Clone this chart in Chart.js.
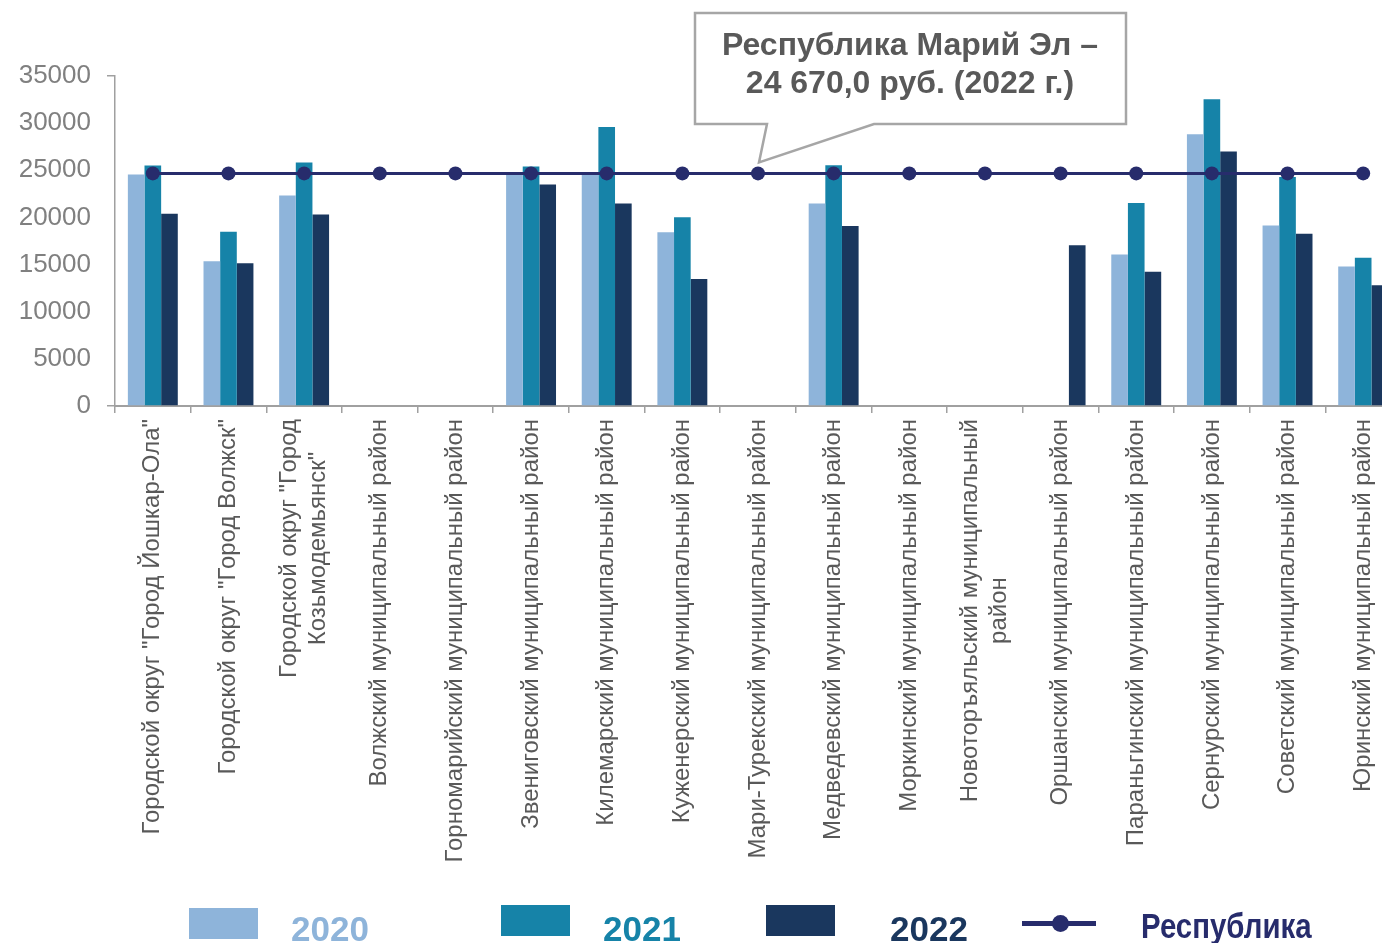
<!DOCTYPE html>
<html>
<head>
<meta charset="utf-8">
<script src="https://cdn.jsdelivr.net/npm/chart.js@4.4.1/dist/chart.umd.min.js"></script>
<style>
  html,body{margin:0;padding:0;background:#fff;width:1382px;height:943px;overflow:hidden;}
  #wrap{position:absolute;left:0;top:0;width:1408px;height:943px;}
  .box{position:absolute;width:69px;height:31px;}
  .txt{position:absolute;font-family:'Liberation Sans',Arial,sans-serif;font-weight:bold;font-size:35px;line-height:35px;white-space:nowrap;}
</style>
</head>
<body>
<div id="wrap"><canvas id="c"></canvas></div>

<div class="box" style="left:189px;top:908px;background:#8eb4da;"></div>
<div class="txt" style="left:291px;top:911px;color:#8eb4da;">2020</div>
<div class="box" style="left:501px;top:905px;background:#1683a8;"></div>
<div class="txt" style="left:603px;top:911px;color:#1683a8;">2021</div>
<div class="box" style="left:766px;top:905px;background:#1a375e;"></div>
<div class="txt" style="left:890px;top:911px;color:#1a375e;">2022</div>
<div style="position:absolute;left:1022px;top:921px;width:74px;height:5px;background:#272c6c;"></div>
<div style="position:absolute;left:1052px;top:915px;width:17px;height:17px;border-radius:50%;background:#272c6c;"></div>
<div class="txt" style="left:1141px;top:908px;color:#272c6c;transform:scaleX(0.84);transform-origin:0 0;">Республика</div>

<script>
const categories = [
  ['Городской округ "Город Йошкар-Ола"'],
  'Городской округ "Город Волжск"',
  ['Городской округ "Город', 'Козьмодемьянск"'],
  'Волжский муниципальный район',
  'Горномарийский муниципальный район',
  'Звениговский муниципальный район',
  'Килемарский муниципальный район',
  'Куженерский муниципальный район',
  'Мари-Турекский муниципальный район',
  'Медведевский муниципальный район',
  'Моркинский муниципальный район',
  ['Новоторъяльский муниципальный', 'район'],
  'Оршанский муниципальный район',
  'Параньгинский муниципальный район',
  'Сернурский муниципальный район',
  'Советский муниципальный район',
  'Юринский муниципальный район'
];
const values2020 = [24550, 15360, 22330, null, null, 24700, 24600, 18440, null, 21480, null, null, null, 16080, 28820, 19150, 14800];
const values2021 = [25500, 18470, 25820, null, null, 25400, 29600, 20030, null, 25540, null, null, null, 21540, 32530, 24300, 15720];
const values2022 = [20380, 15150, 20310, null, null, 23500, 21480, 13460, null, 19100, null, null, 17060, 14230, 26990, 18260, 12820];
const republic   = [24670, 24670, 24670, 24670, 24670, 24670, 24670, 24670, 24670, 24670, 24670, 24670, 24670, 24670, 24670, 24670, 24670];
const yTicks = [0, 5000, 10000, 15000, 20000, 25000, 30000, 35000];
const calloutLines = ['Республика Марий Эл –', '24 670,0 руб. (2022 г.)'];
const calloutIndex = 8;

const FONT = "'Liberation Sans', Arial, sans-serif";

const centerLabels = {
  id: 'centerLabels',
  beforeDraw(chart) {
    const sc = chart.scales.x;
    const items = sc.getLabelItems();
    const ctx = chart.ctx;
    items.forEach(it => {
      if (it._adj) return;
      const lines = Array.isArray(it.label) ? it.label : [it.label];
      ctx.save();
      ctx.font = it.font.string;
      const w = Math.max(...lines.map(l => ctx.measureText(l).width));
      ctx.restore();
      it.options.textAlign = 'center';
      const t = it.options.translation;
      it.options.translation = [t[0] - (lines.length - 1) * it.font.lineHeight / 2, t[1] + w / 2];
      it._adj = true;
    });
  }
};

const callout = {
  id: 'callout',
  afterDraw(chart) {
    const ctx = chart.ctx;
    const meta = chart.getDatasetMeta(3);
    const pt = meta.data[calloutIndex];
    const tipX = pt.x + 1, tipY = pt.y - 11;
    const L = 695, R = 1126, T = 13, B = 124;
    ctx.save();
    ctx.beginPath();
    ctx.moveTo(L, T); ctx.lineTo(R, T); ctx.lineTo(R, B);
    ctx.lineTo(874, B); ctx.lineTo(tipX, tipY); ctx.lineTo(767, B);
    ctx.lineTo(L, B); ctx.closePath();
    ctx.fillStyle = '#ffffff';
    ctx.fill();
    ctx.lineWidth = 2.5;
    ctx.strokeStyle = '#a6a6a6';
    ctx.stroke();
    ctx.fillStyle = '#595959';
    ctx.font = "bold 32px " + FONT;
    ctx.textAlign = 'center';
    ctx.textBaseline = 'alphabetic';
    ctx.fillText(calloutLines[0], 910, 55);
    ctx.fillText(calloutLines[1], 910, 93);
    ctx.restore();
  }
};

new Chart(document.getElementById('c'), {
  type: 'bar',
  data: {
    labels: categories,
    datasets: [
      { label: '2020', data: values2020, backgroundColor: '#8eb4da', order: 1 },
      { label: '2021', data: values2021, backgroundColor: '#1683a8', order: 1 },
      { label: '2022', data: values2022, backgroundColor: '#1a375e', order: 1 },
      { type: 'line', label: 'Республика', data: republic, borderColor: '#272c6c', backgroundColor: '#272c6c',
        borderWidth: 3, pointRadius: 7, pointHoverRadius: 7, pointBackgroundColor: '#272c6c', pointBorderWidth: 0, order: 0 }
    ]
  },
  options: {
    responsive: true,
    maintainAspectRatio: false,
    animation: false,
    datasets: { bar: { categoryPercentage: 0.66, barPercentage: 1.0 } },
    layout: { padding: { left: 19, right: 0, top: 76, bottom: 0 } },
    plugins: { legend: { display: false }, tooltip: { enabled: false } },
    scales: {
      x: {
        offset: true,
        afterFit(scale) { scale.height = 537; scale.paddingLeft = 0; scale.paddingRight = 0; },
        grid: { offset: true, drawOnChartArea: false, drawTicks: true, tickLength: 7, color: '#a0a0a0', lineWidth: 1.5 },
        border: { display: true, color: '#a0a0a0', width: 2 },
        ticks: { autoSkip: false, maxRotation: 90, minRotation: 90, padding: 6, color: '#595959',
                 font: { family: FONT, size: 24 } }
      },
      y: {
        min: 0, max: 35000,
        afterBuildTicks(scale) { scale.ticks = yTicks.map(v => ({ value: v })); },
        afterFit(scale) { scale.width = 96; },
        grid: { drawOnChartArea: false, drawTicks: true, tickLength: 8, lineWidth: 1.5,
                color: (c) => (c.tick && (c.tick.value === 35000 || c.tick.value === 0)) ? '#a0a0a0' : 'rgba(0,0,0,0)' },
        border: { display: true, color: '#a0a0a0', width: 1.5 },
        ticks: { padding: 16, color: '#808080', font: { family: FONT, size: 26 }, callback: (v) => String(v) }
      }
    }
  },
  plugins: [centerLabels, callout]
});
</script>
</body>
</html>
